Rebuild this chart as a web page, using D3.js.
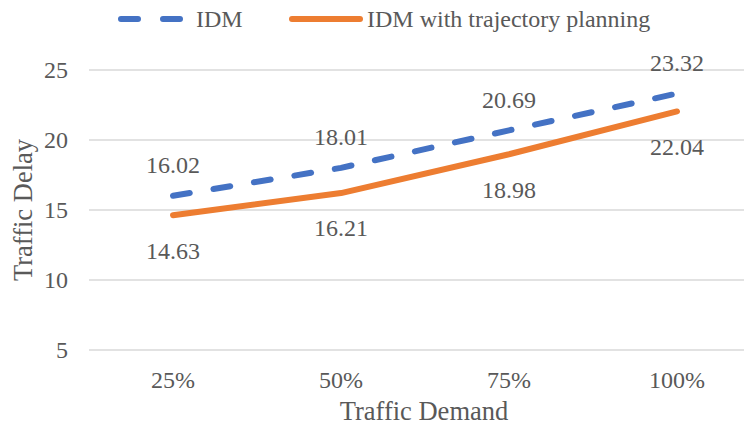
<!DOCTYPE html>
<html>
<head>
<meta charset="utf-8">
<script src="https://cdn.jsdelivr.net/npm/d3@7"></script>
<style>
  body { margin: 0; background: #fff; }
  text { font-family: "Liberation Serif", "Times New Roman", serif; fill: #595959; }
</style>
</head>
<body>
<div id="chart"></div>
<script>
// chart data
const categories = ['25%', '50%', '75%', '100%'];
const idm = [16.02, 18.01, 20.69, 23.32];
const idmPlanning = [14.63, 16.21, 18.98, 22.04];
const yTicks = [5, 10, 15, 20, 25];

const width = 744, height = 431;
const margin = {top: 70, left: 89};

const svg = d3.select('#chart')
    .append('svg')
    .attr('width', width)
    .attr('height', height);

const x = d3.scalePoint()
    .domain(categories)
    .range([margin.left, 761])
    .padding(0.5);

const y = d3.scaleLinear()
    .domain([5, 25])
    .range([350, 70]);

// gridlines
svg.append('g')
    .selectAll('line')
    .data(yTicks)
    .enter()
    .append('line')
    .attr('x1', margin.left)
    .attr('x2', width)
    .attr('y1', d => y(d))
    .attr('y2', d => y(d))
    .attr('stroke', '#d9d9d9')
    .attr('stroke-width', 1.3);

// y tick labels
svg.append('g')
    .selectAll('text')
    .data(yTicks)
    .enter()
    .append('text')
    .attr('x', 68)
    .attr('y', d => y(d))
    .attr('dy', '0.35em')
    .attr('text-anchor', 'end')
    .style('font-size', '24px')
    .text(d => d);

// x tick labels
svg.append('g')
    .selectAll('text')
    .data(categories)
    .enter()
    .append('text')
    .attr('x', d => x(d))
    .attr('y', 380)
    .attr('dy', '0.35em')
    .attr('text-anchor', 'middle')
    .style('font-size', '24px')
    .text(d => d);

// axis titles
svg.append('text')
    .attr('transform', `translate(23,${y(15)}) rotate(-90)`)
    .attr('dy', '0.35em')
    .attr('text-anchor', 'middle')
    .style('font-size', '26.5px')
    .text('Traffic Delay');

svg.append('text')
    .attr('x', 424)
    .attr('y', 411)
    .attr('dy', '0.35em')
    .attr('text-anchor', 'middle')
    .style('font-size', '26.5px')
    .text('Traffic Demand');

const line = d3.line()
    .x((d, i) => x(categories[i]))
    .y(d => y(d));

// series lines
svg.append('path')
    .datum(idmPlanning)
    .attr('d', line)
    .attr('fill', 'none')
    .attr('stroke', '#ed7d31')
    .attr('stroke-width', 6)
    .attr('stroke-linecap', 'round')
    .attr('stroke-linejoin', 'round');

svg.append('path')
    .datum(idm)
    .attr('d', line)
    .attr('fill', 'none')
    .attr('stroke', '#4472c4')
    .attr('stroke-width', 6)
    .attr('stroke-dasharray', '17 24')
    .attr('stroke-linecap', 'round')
    .attr('stroke-linejoin', 'round');

// data labels
svg.append('g')
    .selectAll('text')
    .data(idm)
    .enter()
    .append('text')
    .attr('x', (d, i) => x(categories[i]))
    .attr('y', d => y(d) - 31)
    .attr('dy', '0.35em')
    .attr('text-anchor', 'middle')
    .style('font-size', '24px')
    .text(d => d.toFixed(2));

svg.append('g')
    .selectAll('text')
    .data(idmPlanning)
    .enter()
    .append('text')
    .attr('x', (d, i) => x(categories[i]))
    .attr('y', d => y(d) + 35)
    .attr('dy', '0.35em')
    .attr('text-anchor', 'middle')
    .style('font-size', '24px')
    .text(d => d.toFixed(2));

// legend
const legend = svg.append('g');
legend.append('line')
    .attr('x1', 121).attr('x2', 181)
    .attr('y1', 19).attr('y2', 19)
    .attr('stroke', '#4472c4')
    .attr('stroke-width', 6)
    .attr('stroke-dasharray', '17 25')
    .attr('stroke-linecap', 'round');
legend.append('text')
    .attr('x', 196).attr('y', 19)
    .attr('dy', '0.35em')
    .style('font-size', '24px')
    .text('IDM');
legend.append('line')
    .attr('x1', 292).attr('x2', 360)
    .attr('y1', 19).attr('y2', 19)
    .attr('stroke', '#ed7d31')
    .attr('stroke-width', 6)
    .attr('stroke-linecap', 'round');
legend.append('text')
    .attr('x', 367).attr('y', 19)
    .attr('dy', '0.35em')
    .style('font-size', '24px')
    .text('IDM with trajectory planning');
</script>
</body>
</html>
